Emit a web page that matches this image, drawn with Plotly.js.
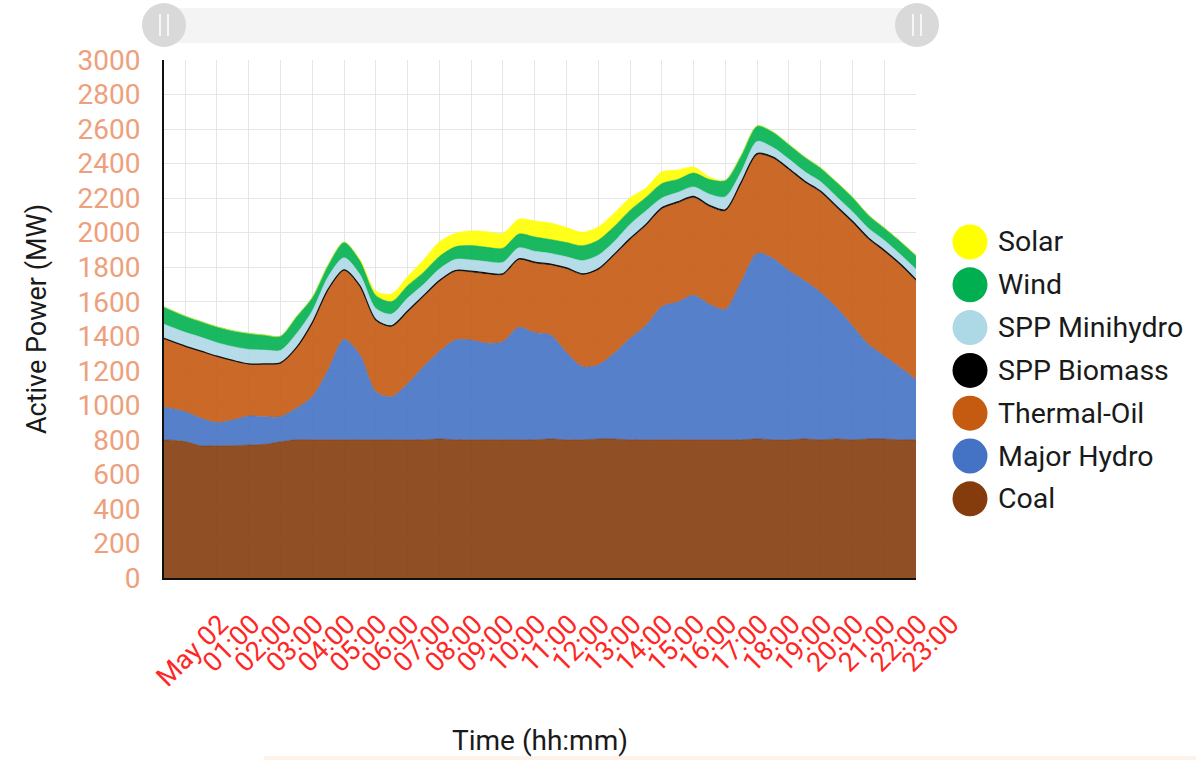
<!DOCTYPE html>
<html>
<head>
<meta charset="utf-8">
<script src="https://cdn.plot.ly/plotly-3.0.1.min.js"></script>
<style>
  html, body { margin: 0; padding: 0; background: #ffffff; }
  #chart { width: 1196px; height: 760px; }
</style>
</head>
<body>
<div id="chart"></div>
<script>
// ---------- data (MW) ----------
const times = [
  "2024-05-01 23:20", "2024-05-02 00:00", "2024-05-02 00:30", "2024-05-02 01:00", "2024-05-02 01:30",
  "2024-05-02 02:00", "2024-05-02 02:30", "2024-05-02 03:00", "2024-05-02 03:30", "2024-05-02 04:00",
  "2024-05-02 04:30", "2024-05-02 05:00", "2024-05-02 05:30", "2024-05-02 06:00", "2024-05-02 06:30",
  "2024-05-02 07:00", "2024-05-02 07:30", "2024-05-02 08:00", "2024-05-02 08:30", "2024-05-02 09:00",
  "2024-05-02 09:30", "2024-05-02 10:00", "2024-05-02 10:30", "2024-05-02 11:00", "2024-05-02 11:30",
  "2024-05-02 12:00", "2024-05-02 12:30", "2024-05-02 13:00", "2024-05-02 13:30", "2024-05-02 14:00",
  "2024-05-02 14:30", "2024-05-02 15:00", "2024-05-02 15:30", "2024-05-02 16:00", "2024-05-02 16:30",
  "2024-05-02 17:00", "2024-05-02 17:30", "2024-05-02 18:00", "2024-05-02 18:30", "2024-05-02 19:00",
  "2024-05-02 19:30", "2024-05-02 20:00", "2024-05-02 20:30", "2024-05-02 21:00", "2024-05-02 21:30",
  "2024-05-02 22:00", "2024-05-02 22:30", "2024-05-02 23:00"
];

const coal = [800, 790, 765, 766, 766, 770, 774, 789, 800, 800, 800, 800, 800, 800, 800, 800,
  800, 805, 800, 800, 800, 800, 800, 800, 805, 800, 800, 805, 805, 800, 800, 800,
  800, 800, 800, 800, 800, 805, 800, 800, 805, 800, 805, 800, 805, 805, 800, 800];

const majorHydro = [190, 173, 160, 134, 149, 168, 160, 145, 183, 250, 405, 582, 491, 279, 250, 325,
  424, 506, 578, 578, 559, 569, 652, 621, 602, 506, 424, 429, 496, 588, 663, 771,
  798, 838, 785, 756, 915, 1075, 1051, 979, 916, 853, 761, 660, 549, 481, 419, 349];

const thermalOil = [395, 377, 386, 382, 342, 299, 303, 309, 347, 425, 463, 398, 396, 411, 405, 415,
  405, 405, 396, 392, 400, 386, 390, 401, 404, 483, 531, 550, 566, 570, 577, 565,
  572, 564, 565, 569, 570, 570, 579, 584, 569, 579, 579, 598, 608, 604, 593, 571];

const sppBiomass = [3, 3, 3, 3, 3, 3, 3, 3, 4, 4, 5, 5, 5, 6, 6, 6,
  6, 7, 7, 7, 7, 7, 7, 7, 7, 7, 7, 7, 7, 8, 8, 8,
  8, 8, 8, 8, 8, 8, 8, 8, 8, 8, 8, 8, 8, 8, 8, 8];

const sppMinihydro = [82, 80, 80, 78, 80, 84, 80, 72, 80, 68, 72, 70, 65, 65, 68, 75,
  65, 67, 64, 65, 66, 66, 63, 63, 62, 64, 76, 78, 74, 82, 78, 56,
  55, 55, 65, 75, 60, 70, 55, 55, 55, 55, 55, 55, 56, 58, 55, 60];

const wind = [100, 94, 91, 92, 92, 93, 87, 83, 99, 78, 68, 90, 80, 75, 72, 72,
  70, 72, 73, 83, 83, 82, 80, 83, 80, 83, 86, 87, 87, 81, 78, 84,
  75, 80, 85, 95, 95, 90, 90, 85, 85, 80, 85, 85, 77, 72, 76, 80];

const solar = [0, 0, 0, 0, 0, 0, 0, 0, 0, 0, 0, 0, 8, 25, 45, 52,
  72, 84, 78, 85, 91, 86, 86, 93, 96, 87, 78, 77, 77, 72, 55, 68,
  55, 35, 15, 0, 0, 0, 0, 0, 0, 0, 0, 0, 0, 0, 0, 0];

const seriesNames = ["Coal", "Major Hydro", "Thermal-Oil", "SPP Biomass", "SPP Minihydro", "Wind", "Solar"];
const seriesColors = ["#843c0c", "#4472c4", "#c55a11", "#000000", "#add8e6", "#00b050", "#ffff00"];
const seriesValues = [coal, majorHydro, thermalOil, sppBiomass, sppMinihydro, wind, solar];

const tickTimes = [
  "2024-05-02 00:00", "2024-05-02 01:00", "2024-05-02 02:00", "2024-05-02 03:00", "2024-05-02 04:00",
  "2024-05-02 05:00", "2024-05-02 06:00", "2024-05-02 07:00", "2024-05-02 08:00", "2024-05-02 09:00",
  "2024-05-02 10:00", "2024-05-02 11:00", "2024-05-02 12:00", "2024-05-02 13:00", "2024-05-02 14:00",
  "2024-05-02 15:00", "2024-05-02 16:00", "2024-05-02 17:00", "2024-05-02 18:00", "2024-05-02 19:00",
  "2024-05-02 20:00", "2024-05-02 21:00", "2024-05-02 22:00", "2024-05-02 23:00"
];
const tickLabels = ["May 02", "01:00", "02:00", "03:00", "04:00", "05:00", "06:00", "07:00", "08:00",
  "09:00", "10:00", "11:00", "12:00", "13:00", "14:00", "15:00", "16:00", "17:00", "18:00", "19:00",
  "20:00", "21:00", "22:00", "23:00"];

// ---------- helpers ----------
function hexToRgba(hex, a) {
  const n = parseInt(hex.slice(1), 16);
  return "rgba(" + ((n >> 16) & 255) + "," + ((n >> 8) & 255) + "," + (n & 255) + "," + a + ")";
}

// plot-area geometry (px)
const L = 164, T = 60, W = 752, H = 518;
const FW = 1196, FH = 760;
const px = p => (p - L) / W;
const py = p => (T + H - p) / H;

// ---------- traces ----------
const traces = seriesNames.map((name, i) => ({
  type: "scatter",
  mode: "lines",
  name: name,
  x: times,
  y: seriesValues[i],
  stackgroup: "gen",
  line: {
    color: name === "SPP Biomass" ? "#111111" : seriesColors[i],
    width: name === "SPP Biomass" ? 1.2 : 0.6,
    shape: "spline",
    smoothing: 0.8
  },
  fillcolor: hexToRgba(seriesColors[i], 0.9),
  hoverinfo: "skip",
  showlegend: false
}));

// ---------- custom legend (large round markers) ----------
const shapes = [];
const annotations = [];
const legendOrder = seriesNames.slice().reverse();
const legendTop = 242, legendStep = 42.8, rCircle = 17.5, cx = 970, textX = 996;
legendOrder.forEach((name, k) => {
  const idx = seriesNames.indexOf(name);
  const cy = legendTop + k * legendStep;
  shapes.push({
    type: "circle", xref: "paper", yref: "paper",
    x0: px(cx - rCircle), x1: px(cx + rCircle), y0: py(cy + rCircle), y1: py(cy - rCircle),
    fillcolor: seriesColors[idx], line: { width: 0 }
  });
  annotations.push({
    xref: "paper", yref: "paper", x: px(textX), y: py(cy),
    xanchor: "left", yanchor: "middle", showarrow: false,
    text: name, font: { family: "Roboto, sans-serif", size: 28.5, color: "#1a1a1a" }
  });
});

// ---------- top scrollbar decoration ----------
shapes.push({
  type: "rect", xref: "paper", yref: "paper", layer: "below",
  x0: px(164), x1: px(917), y0: py(43), y1: py(8),
  fillcolor: "#f4f4f4", line: { width: 0 }
});
[164, 917].forEach(c => {
  shapes.push({
    type: "circle", xref: "paper", yref: "paper",
    x0: px(c - 22), x1: px(c + 22), y0: py(25 + 22), y1: py(25 - 22),
    fillcolor: "#d9d9d9", line: { width: 0 }
  });
  [-4, 4].forEach(d => {
    shapes.push({
      type: "line", xref: "paper", yref: "paper",
      x0: px(c + d), x1: px(c + d), y0: py(36), y1: py(14),
      line: { color: "#ffffff", width: 1.5 }
    });
  });
});
// faint strip at the bottom edge
shapes.push({
  type: "rect", xref: "paper", yref: "paper",
  x0: px(264), x1: px(1196), y0: py(760), y1: py(756),
  fillcolor: "#fdf3ea", line: { width: 0 }
});

// ---------- layout ----------
const layout = {
  width: FW, height: FH,
  margin: { l: L, r: FW - L - W, t: T, b: FH - T - H, pad: 0 },
  paper_bgcolor: "#ffffff",
  plot_bgcolor: "#ffffff",
  showlegend: false,
  font: { family: "Roboto, sans-serif" },
  xaxis: {
    type: "date",
    range: ["2024-05-01 23:20", "2024-05-02 23:00"],
    tickmode: "array",
    tickvals: tickTimes,
    ticktext: tickLabels,
    tickangle: -45,
    ticklabelshift: 35,
    ticklabelstandoff: 18,
    tickfont: { family: "Roboto, sans-serif", size: 27, color: "#ff2626" },
    showgrid: true,
    gridcolor: "#e6e6e6",
    gridwidth: 1,
    showline: true,
    linecolor: "#111111",
    linewidth: 1.5,
    zeroline: false,
    ticks: "",
    automargin: false,
    fixedrange: true,
    title: { text: "Time (hh:mm)", standoff: 38, font: { family: "Roboto, sans-serif", size: 28, color: "#1a1a1a" } }
  },
  yaxis: {
    range: [0, 3000],
    tickmode: "linear",
    tick0: 0,
    dtick: 200,
    tickfont: { family: "Roboto, sans-serif", size: 28, color: "#eea07c" },
    ticklabelstandoff: 16,
    showgrid: true,
    gridcolor: "#e6e6e6",
    gridwidth: 1,
    showline: true,
    linecolor: "#111111",
    linewidth: 2,
    zeroline: false,
    ticks: "",
    automargin: false,
    fixedrange: true,
    title: { text: "Active Power (MW)", standoff: 23, font: { family: "Roboto, sans-serif", size: 27, color: "#1a1a1a" } }
  },
  shapes: shapes,
  annotations: annotations
};

Plotly.newPlot("chart", traces, layout, { staticPlot: true, displayModeBar: false });
</script>
</body>
</html>
